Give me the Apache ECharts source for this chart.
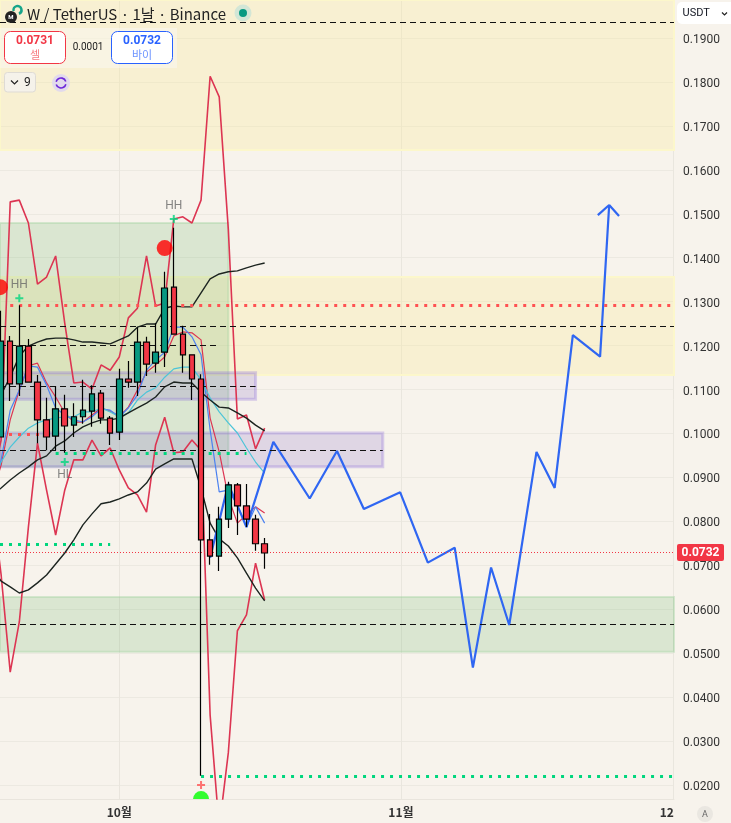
<!DOCTYPE html>
<html><head><meta charset="utf-8">
<style>html,body{margin:0;padding:0;background:#f7f3ec}#c{width:731px;height:823px}</style>
<script src="https://cdn.jsdelivr.net/npm/echarts@6/dist/echarts.min.js"></script>
</head><body><div id="c"></div>
<script>
const xMin = '2025-09-17 21:00', xMax = '2025-12-01 01:12';
const yMin = 0.01681, yMax = 0.19865;
const yTicks = [0.02,0.03,0.04,0.05,0.06,0.07,0.08,0.09,0.10,0.11,0.12,0.13,0.14,0.15,0.16,0.17,0.18,0.19];
const xTicks = ['2025-10-01','2025-11-01','2025-12-01'];
const xTickLabels = ['10월','11월','12'];
const lineDates = ['2025-09-17','2025-09-18','2025-09-19','2025-09-20','2025-09-21','2025-09-22','2025-09-23','2025-09-24','2025-09-25','2025-09-26','2025-09-27','2025-09-28','2025-09-29','2025-09-30','2025-10-01','2025-10-02','2025-10-03','2025-10-04','2025-10-05','2025-10-06','2025-10-07','2025-10-08','2025-10-09','2025-10-10','2025-10-11','2025-10-12','2025-10-13','2025-10-14','2025-10-15','2025-10-16','2025-10-17'];
const candleOpen  = [.0992,.1210,.1113,.1199,.1117,.1031,.0994,.1056,.1019,.1038,.1051,.1092,.1035,.1003,.1124,.1117,.1208,.1160,.1185,.1333,.1226,.1179,.1124,.0758,.0721,.0805,.0883,.0835,.0805,.0749];
const candleClose = [.1210,.1113,.1199,.1117,.1031,.0992,.1056,.1017,.1038,.1053,.1090,.1035,.1001,.1124,.1117,.1208,.1158,.1185,.1331,.1226,.1179,.1124,.0758,.0721,.0805,.0883,.0835,.0805,.0749,.0728];
const candleLow   = [.0992,.1074,.1085,.1117,.0978,.0962,.0962,.0956,.0992,.1022,.1015,.1022,.0974,.0985,.1104,.1085,.1131,.1138,.1151,.1226,.1138,.1076,.0221,.0701,.0687,.0785,.0769,.0787,.0733,.0692];
const candleHigh  = [.1279,.1222,.1292,.1215,.1133,.1081,.1108,.1088,.1069,.1122,.1110,.1099,.1040,.1147,.1165,.1242,.1220,.1251,.1368,.1468,.1245,.1179,.1135,.0817,.0833,.0890,.0887,.0885,.0815,.0762];
const redUpper = [.0894,.0985,.1527,.1531,.1479,.1340,.1356,.1404,.1251,.1115,.1117,.1101,.1156,.1144,.1174,.1263,.1285,.1404,.1290,.1297,.1488,.1493,.1479,.1531,.1813,.1766,.1465,.1033,.1042,.0965,.1012];
const redLower = [.0849,.0678,.0457,.0571,.0787,.0978,.0871,.0769,.0871,.0940,.0940,.0985,.0949,.0967,.0917,.0876,.0860,.0821,.0974,.1037,.0956,.0958,.0985,.0962,.0359,.0102,.0273,.0551,.0587,.0705,.0621];
const redInner = [.0860,.0928,.1031,.1099,.1154,.1160,.1115,.1083,.1047,.1026,.1026,.1042,.1058,.1051,.1038,.1060,.1099,.1140,.1156,.1174,.1222,.1231,.1229,.1213,.1035,.0958,.0855,.0796,.0815,.0833,.0819];
const blueThin = [.0860,.0940,.1053,.1099,.1154,.1151,.1110,.1058,.1042,.1031,.1026,.1038,.1056,.1053,.1038,.1058,.1088,.1144,.1167,.1185,.1242,.1242,.1220,.1179,.1008,.0867,.0871,.0837,.0787,.0833,.0796];
const cyanLine = [.0894,.0935,.0969,.0992,.1012,.1024,.1031,.1035,.1038,.1038,.1049,.1049,.1058,.1049,.1038,.1047,.1076,.1094,.1104,.1128,.1147,.1151,.1151,.1122,.1081,.1049,.1024,.1001,.0967,.0935,.0910];
const blackHigh = [.1019,.1088,.1129,.1176,.1199,.1208,.1215,.1217,.1217,.1213,.1208,.1208,.1206,.1204,.1213,.1222,.1242,.1249,.1249,.1285,.1290,.1288,.1288,.1320,.1352,.1363,.1368,.1370,.1377,.1383,.1388];
const blackMid = [.0860,.0876,.0894,.0910,.0924,.0940,.0949,.0971,.0983,.1001,.1015,.1024,.1031,.1031,.1035,.1047,.1058,.1069,.1083,.1106,.1117,.1115,.1115,.1094,.1076,.1060,.1058,.1047,.1035,.1019,.1006];
const blackLow = [.0694,.0664,.0651,.0637,.0644,.0660,.0678,.0703,.0728,.0758,.0792,.0817,.0840,.0844,.0851,.0860,.0867,.0887,.0919,.0931,.0942,.0942,.0942,.0876,.0796,.0760,.0744,.0717,.0682,.0648,.0619];
const forecastDates = ['2025-10-11','2025-10-13','2025-10-15','2025-10-17 23:00','2025-10-21 23:00','2025-10-24 23:00','2025-10-27 22:00','2025-10-31 22:00','2025-11-03 23:00','2025-11-06 22:00','2025-11-08 22:00','2025-11-10 22:00','2025-11-12 22:00','2025-11-15 22:00','2025-11-17 22:00','2025-11-19 22:00','2025-11-22 22:00','2025-11-23 22:00','2025-11-25 00:00'];
const forecastValues = [.0717,.0885,.0787,.0981,.0852,.0960,.0828,.0866,.0706,.0740,.0467,.0695,.0564,.0958,.0876,.1224,.1175,.1520,.1495];
const arrowWingDates = ['2025-11-22 16:00','2025-11-23 22:00'];
const arrowWingValues = [.1497,.1520];
const dashedLevels = [[xMin,xMax,.1936],[xMin,xMax,.1243],[xMin,'2025-10-12',.1200],[xMin,'2025-10-16',.1108],[xMin,'2025-10-30',.0961],[xMin,xMax,.0566]];
const redDots = [['2025-09-19',xMax,.1292],[xMin,'2025-09-24',.0998]];
const greenDots = [['2025-09-24','2025-10-15',.0956],[xMin,'2025-09-30',.0747],['2025-10-10',xMax,.0221]];
const lastPriceLine = .0730;
const yellowZones = [[xMin,xMax,.19865,.1645],[xMin,xMax,.1356,.1133]];
const greenZones = [[xMin,'2025-10-13',.1479,.0924],[xMin,xMax,.0628,.0503]];
const purpleZones = [[xMin,'2025-10-16',.1138,.1078],[xMin,'2025-10-30',.1001,.0924]];
const plusGreen = [['2025-09-20',.1308,'HH'],['2025-09-25',.0935,'HL'],['2025-10-07',.1488,'HH']];
const plusRed = [['2025-10-10',.0200]];
const redDotsBig = [['2025-10-06',.1422],[xMin,.1333]];
const greenDotBig = [['2025-10-10',.0177]];

const D = s => (Date.parse(s.length===10 ? s+'T00:00:00Z' : s.replace(' ','T')+':00Z') - Date.UTC(2025,9,1))/86400000;
const plus = 'path://M3,0H5V3H8V5H5V8H3V5H0V3H3Z';
const halfDot = 'path://M0,8A8,8 0 0 1 16,8Z';
const c = echarts.init(document.getElementById('c'));
const candleRows = lineDates.slice(1).map((d,i)=>[D(d),candleOpen[i],candleClose[i],candleLow[i],candleHigh[i]]);
const ln = (name,vals,color,width,z)=>({name,type:'line',data:lineDates.map((d,i)=>[D(d),vals[i]]),showSymbol:false,symbol:'none',silent:true,z:z||3,clip:true,lineStyle:{color,width}});
const zone = (rows,fill,border,bw)=>rows.map(r=>[{coord:[D(r[0]),r[2]],itemStyle:{color:fill,borderColor:border,borderWidth:bw}},{coord:[D(r[1]),r[3]]}]);
const hline = (rows,color,width,type)=>rows.map(r=>[{coord:[D(r[0]),r[2]],lineStyle:{color,width,type,opacity:1}},{coord:[D(r[1]),r[2]]}]);
const ui = [];
const rr=(x,y,w,h,r,fill,stroke,lw)=>ui.push({type:'rect',shape:{x,y,width:w,height:h,r},style:{fill,stroke:stroke||null,lineWidth:lw||0},z:50,silent:true});
const tx=(x,y,text,fill,font,align)=>ui.push({type:'text',x,y,style:{text,fill,font,align:align||'left',verticalAlign:'middle'},z:51,silent:true});
const FF='"Noto Sans CJK KR","Noto Sans",sans-serif';
const FN='Roboto,"Noto Sans",sans-serif';
rr(0,28,177,40,0,'rgba(250,247,240,.55)');
ui.push({type:'circle',shape:{cx:11,cy:17,r:6},style:{fill:'#222'},z:51});
ui.push({type:'arc',shape:{cx:17.5,cy:10,r:4,startAngle:-3.4,endAngle:1.2},style:{stroke:'#17a58a',lineWidth:2.5,fill:null},z:51});
tx(11,17,'M','#fff','bold 6px '+FN,'center');
tx(27,14.5,'W / TetherUS · 1날 · Binance','#222','15px '+FF);
ui.push({type:'circle',shape:{cx:243,cy:13,r:8.5},style:{fill:'#d3e6d6'},z:51});
ui.push({type:'circle',shape:{cx:243,cy:13,r:4},style:{fill:'#089981'},z:52});
rr(4.5,31.5,61,32,6,'#fff','#f23645',1);
tx(35,41,'0.0731','#f23645','bold 12px '+FN,'center');
tx(35,55,'셀','#f77c80','11px '+FF,'center');
tx(88,47.5,'0.0001','#222','10px '+FN,'center');
rr(111.5,31.5,61,32,6,'#fff','#2962ff',1);
tx(142,41,'0.0732','#2962ff','bold 12px '+FN,'center');
tx(142,55,'바이','#6c93ff','11px '+FF,'center');
rr(4.5,72.5,31,19.5,3,'#f5f2ea','#dedbd5',1);
ui.push({type:'polyline',shape:{points:[[11,80.5],[14.5,84],[18,80.5]]},style:{stroke:'#222',lineWidth:1.2,fill:null},z:51});
tx(24,82.5,'9','#222','12px '+FN);
ui.push({type:'circle',shape:{cx:61,cy:83,r:9},style:{fill:'#e2daec'},z:51});
ui.push({type:'arc',shape:{cx:61,cy:83,r:5,startAngle:-2.9,endAngle:-0.3},style:{stroke:'#6d28d9',lineWidth:1.6,fill:null},z:52});
ui.push({type:'arc',shape:{cx:61,cy:83,r:5,startAngle:0.25,endAngle:2.85},style:{stroke:'#6d28d9',lineWidth:1.6,fill:null},z:52});
rr(677,2,60,22,5,'#fff');
tx(682.5,13.5,'USDT','#131722','11px '+FN);
ui.push({type:'polyline',shape:{points:[[722,12.5],[724.5,15],[727,12.5]]},style:{stroke:'#222',lineWidth:1.2,fill:null},z:52});
rr(677,544,47,17,2,'#f23645');
tx(700.5,552.8,'0.0732','#fff','bold 12px '+FN,'center');
ui.push({type:'circle',shape:{cx:705,cy:814,r:8},style:{fill:'#eae7e1'},z:51});
tx(705,814.5,'A','#666','9px '+FN,'center');

const xTickVals = xTicks.map(D);
c.setOption({
  animation:false,
  backgroundColor:'#f7f3ec',
  grid:{left:0,top:0,width:674,height:799},
  xAxis:{type:'value',min:D(xMin),max:D(xMax),
    axisLine:{show:true,lineStyle:{color:'#e9e5dd'}},
    axisTick:{show:false,customValues:xTickVals},
    splitLine:{show:true,lineStyle:{color:'#e9e6de',width:1}},
    axisLabel:{customValues:xTickVals,color:'#333',fontSize:12,fontWeight:'bold',fontFamily:FF,margin:7,hideOverlap:false,
      formatter:v=>{const i=xTickVals.indexOf(+v);return i>=0?xTickLabels[i]+(i===2?'     ':''):'';}}},
  yAxis:{type:'value',position:'right',min:yMin,max:yMax,
    axisLine:{show:true,lineStyle:{color:'#e9e5dd'}},
    axisTick:{show:false,customValues:yTicks},
    splitLine:{show:true,lineStyle:{color:'#ece9e1',width:1}},
    axisLabel:{customValues:yTicks,color:'#333',fontSize:12,fontFamily:FN,margin:9,align:'left',verticalAlign:'top',lineHeight:4,formatter:v=>(+v).toFixed(4)}},
  series:[
    {type:'line',data:[],z:1,silent:true,markArea:{silent:true,data:[
      ...zone(yellowZones,'rgba(250,235,160,.34)','#fcf7cb',2),
      ...zone(greenZones,'rgba(90,170,90,.18)','rgba(160,210,160,.4)',2),
      ...zone(purpleZones,'rgba(130,100,200,.2)','rgba(140,110,220,.3)',3)]}},
    {type:'line',data:[],z:2,silent:true,markLine:{silent:true,symbol:'none',label:{show:false},data:[
      ...hline(dashedLevels,'#111',1,[6,4]),
      ...hline(redDots,'#ff5252',3,[3,6]),
      ...hline(greenDots,'#00d67e',3,[3,6]),
      [{coord:[D(xMin),lastPriceLine],lineStyle:{color:'#f23645',width:1,type:[1,2],opacity:1}},{coord:[D(xMax),lastPriceLine]}]]}},
    ln('red upper',redUpper,'#dc3552',1.6),
    ln('red lower',redLower,'#dc3552',1.6),
    ln('red inner',redInner,'#dc3552',1.2),
    ln('blue',blueThin,'#4c82f0',1.2),
    ln('cyan',cyanLine,'#4cc4d8',1.2),
    ln('black high',blackHigh,'#1c2420',1.4),
    ln('black mid',blackMid,'#1c2420',1.4),
    ln('black low',blackLow,'#1c2420',1.4),
    {name:'forecast',type:'line',data:forecastDates.map((d,i)=>[D(d),forecastValues[i]]),showSymbol:false,symbol:'none',z:4,silent:true,clip:true,lineStyle:{color:'#2f66f2',width:2.2}},
    {name:'forecast arrow',type:'line',data:arrowWingDates.map((d,i)=>[D(d),arrowWingValues[i]]),showSymbol:false,symbol:'none',z:4,silent:true,clip:true,lineStyle:{color:'#2f66f2',width:2.2}},
    {name:'candles',type:'candlestick',data:candleRows,encode:{x:0,y:[1,2,3,4]},barWidth:6,z:5,silent:true,
      itemStyle:{color:'#089981',color0:'#f23645',borderColor:'#000',borderColor0:'#000',borderWidth:1.2}},
    {type:'scatter',data:plusGreen.map(r=>({value:[D(r[0]),r[1]],label:{show:true,formatter:r[2],position:r[2]==='HL'?'bottom':'top',distance:3,color:'#666',fontSize:12,fontFamily:FN}})),symbol:plus,symbolSize:8,z:7,silent:true,itemStyle:{color:'#00d67e'}},
    {type:'scatter',data:plusRed.map(r=>[D(r[0]),r[1]]),symbol:plus,symbolSize:8,z:7,silent:true,itemStyle:{color:'#ff5252'}},
    {type:'scatter',data:redDotsBig.map(r=>[D(r[0]),r[1]]),symbol:'circle',symbolSize:16,z:7,silent:true,itemStyle:{color:'#ff0000'}},
    {type:'scatter',data:greenDotBig.map(r=>[D(r[0]),r[1]]),symbol:halfDot,symbolSize:[16,8],z:7,silent:true,itemStyle:{color:'#00ff00'}}
  ],
  graphic:ui
});
</script></body></html>
